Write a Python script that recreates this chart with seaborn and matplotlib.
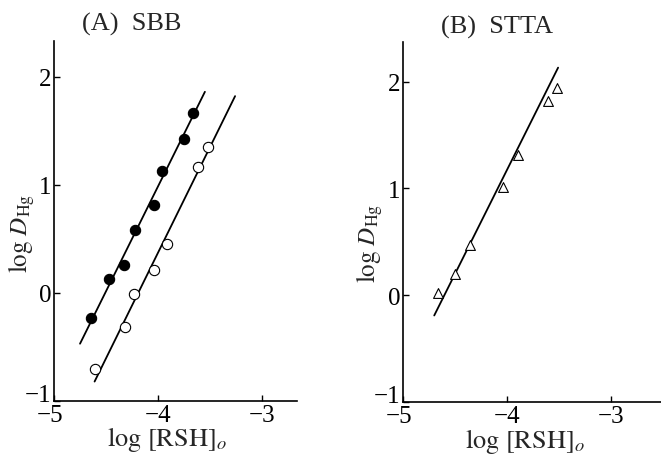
import matplotlib
matplotlib.use("Agg")
import matplotlib.pyplot as plt
import matplotlib.transforms as mtransforms
import seaborn as sns

# ---- data ----
sbb_filled_x = [-3.66, -3.75, -3.96, -4.04, -4.22, -4.33, -4.47, -4.64]
sbb_filled_y = [1.66, 1.42, 1.13, 0.81, 0.58, 0.26, 0.13, -0.23]
sbb_filled_line_x = [-4.75, -3.55]
sbb_filled_line_y = [-0.47, 1.86]

sbb_open_x = [-3.52, -3.62, -3.91, -4.04, -4.23, -4.32, -4.61]
sbb_open_y = [1.35, 1.16, 0.45, 0.21, -0.01, -0.32, -0.70]
sbb_open_line_x = [-4.61, -3.26]
sbb_open_line_y = [-0.82, 1.82]

stta_x = [-3.52, -3.61, -3.90, -4.04, -4.36, -4.50, -4.66]
stta_y = [1.94, 1.82, 1.31, 1.01, 0.47, 0.20, 0.02]
stta_line_x = [-4.70, -3.51]
stta_line_y = [-0.19, 2.13]

x_ticks = [-5, -4, -3]
y_ticks = [-1, 0, 1, 2]
x_ticklabels = ["\u22125", "\u22124", "\u22123"]
y_ticklabels = ["\u22121", "0", "1", "2"]
titles = ["(A)  SBB", "(B)  STTA"]

sns.set_theme(style="ticks")
plt.rcParams['font.family'] = ['Liberation Serif', 'DejaVu Serif']
plt.rcParams['mathtext.fontset'] = 'stix'

fig = plt.figure(figsize=(6.61, 4.56), dpi=100)
axA = fig.add_axes([54/661, 1-402/456, (297-54)/661, (402-42)/456])
axB = fig.add_axes([403/661, 1-403/456, (661-403)/661, (403-43)/456])

lw = 1.3
# Panel A
sns.lineplot(x=sbb_filled_line_x, y=sbb_filled_line_y, ax=axA, color="black", lw=lw)
sns.lineplot(x=sbb_open_line_x, y=sbb_open_line_y, ax=axA, color="black", lw=lw)
sns.scatterplot(x=sbb_filled_x, y=sbb_filled_y, ax=axA, color="black", s=55,
                edgecolor="black", linewidth=0.8, zorder=3)
sns.scatterplot(x=sbb_open_x, y=sbb_open_y, ax=axA, color="white", s=55,
                edgecolor="black", linewidth=0.8, zorder=3)
axA.set_xlim(-5, -5 + (297-53)/104.5)
axA.set_ylim(-1, 2.33)

# Panel B
sns.lineplot(x=stta_line_x, y=stta_line_y, ax=axB, color="black", lw=lw)
sns.scatterplot(x=stta_x, y=stta_y, ax=axB, marker="^", color="white", s=50,
                edgecolor="black", linewidth=0.8, zorder=3)
axB.set_xlim(-5, -5 + (661-402)/104.5)
axB.set_ylim(-1, 2.37)

for ax in (axA, axB):
    sns.despine(ax=ax)
    for side in ("left", "bottom"):
        ax.spines[side].set_linewidth(1.2)
        ax.spines[side].set_color("black")
    ax.set_xticks(x_ticks)
    ax.set_xticklabels(x_ticklabels)
    ax.set_yticks(y_ticks)
    ax.set_yticklabels(y_ticklabels)
    ax.tick_params(direction="in", length=4, width=1, labelsize=18, colors="black", pad=2)
    ax.set_xlabel("")
    ax.set_ylabel("")
    ax.set_facecolor("white")
    # separate the corner labels as in the reference
    ylab_m1 = ax.get_yticklabels()[0]
    ylab_m1.set_transform(ylab_m1.get_transform() +
                          mtransforms.ScaledTranslation(0, 8/100, fig.dpi_scale_trans))
    xlab_m5 = ax.get_xticklabels()[0]
    xlab_m5.set_transform(xlab_m5.get_transform() +
                          mtransforms.ScaledTranslation(-4/100, 0, fig.dpi_scale_trans))

fig.text(132/661, 1-24/456, titles[0], ha="center", va="center", fontsize=19)
fig.text(497/661, 1-27/456, titles[1], ha="center", va="center", fontsize=19)

ylab = r"$\mathrm{log}\ D_{\mathrm{Hg}}$"
xlab = r"$\mathrm{log}\ [\mathrm{RSH}]_o$"
fig.text(22/661, 1-234/456, ylab, rotation=90, ha="center", va="center", fontsize=18)
fig.text(370/661, 1-244/456, ylab, rotation=90, ha="center", va="center", fontsize=18)
fig.text(167/661, 1-440/456, xlab, ha="center", va="center", fontsize=19)
fig.text(525/661, 1-442/456, xlab, ha="center", va="center", fontsize=19)

fig.savefig("out.png", dpi=100, facecolor="white")
